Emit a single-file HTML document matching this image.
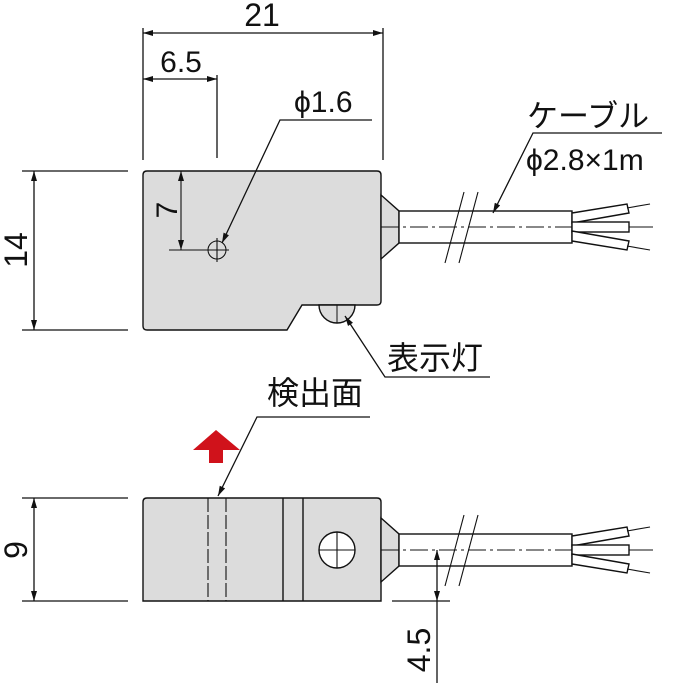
<!DOCTYPE html>
<html><head><meta charset="utf-8"><style>
html,body{margin:0;padding:0;background:#fff;}
svg{display:block;}
text{font-family:"Liberation Sans","Noto Sans CJK JP",sans-serif;fill:#111;}
</style></head><body>
<svg width="678" height="683" viewBox="0 0 678 683" xmlns="http://www.w3.org/2000/svg">
<defs>
<marker id="a" viewBox="0 0 10 6" refX="10" refY="3" markerWidth="12" markerHeight="6" markerUnits="userSpaceOnUse" orient="auto-start-reverse"><path d="M0,0L10,3L0,6z" fill="#111"/></marker>
</defs>

<!-- top body -->
<g stroke="#111" stroke-width="1.4">
<path d="M147,171 H377 Q381,171 381,175 V301 Q381,305 377,305 H302 L287,330 H147 Q143,330 143,326 V175 Q143,171 147,171 Z" fill="#dcdcdc"/>
<path d="M319,305 A18,18 0 0 0 355,305 Z" fill="#dcdcdc"/>
<line x1="337" y1="305" x2="337" y2="323" stroke-width="1"/>
<path d="M381,195 L399,211 V243 L381,259 Z" fill="#dcdcdc"/>
<rect x="399" y="211" width="173" height="32" fill="#fff"/>
<path d="M572,213 L627,204 L629,213 L572,223 Z" fill="#fff"/>
<rect x="572" y="222" width="57" height="10" fill="#fff"/>
<path d="M572,241 L627,250 L629,241 L572,231 Z" fill="#fff"/>
</g>
<g stroke="#111" stroke-width="1.1" fill="none">
<line x1="627" y1="208" x2="650" y2="204"/>
<line x1="629" y1="227" x2="653" y2="227"/>
<line x1="627" y1="246" x2="650" y2="250"/>
<line x1="381" y1="227" x2="572" y2="227" stroke-dasharray="18,4,3,4"/>
<line x1="464" y1="192" x2="445" y2="263"/>
<line x1="478" y1="192" x2="459" y2="263"/>
<circle cx="217" cy="250" r="9"/>
<line x1="217" y1="238" x2="217" y2="262"/>
<line x1="169" y1="250" x2="229" y2="250"/>
<line x1="181" y1="171" x2="181" y2="250" marker-start="url(#a)" marker-end="url(#a)"/>
</g>

<!-- bottom body -->
<g stroke="#111" stroke-width="1.4">
<path d="M147,498 H377 Q381,498 381,502 V601 H143 V502 Q143,498 147,498 Z" fill="#dcdcdc"/>
<path d="M381,518 L399,534 V566 L381,582 Z" fill="#dcdcdc"/>
<rect x="399" y="534" width="173" height="32" fill="#fff"/>
<path d="M572,536 L627,527 L629,536 L572,546 Z" fill="#fff"/>
<rect x="572" y="545" width="57" height="10" fill="#fff"/>
<path d="M572,564 L627,573 L629,564 L572,554 Z" fill="#fff"/>
<circle cx="337" cy="550" r="18" fill="#fff"/>
</g>
<g stroke="#111" stroke-width="1.1" fill="none">
<line x1="319" y1="550" x2="355" y2="550"/>
<line x1="337" y1="532" x2="337" y2="568"/>
<line x1="208" y1="498" x2="208" y2="601" stroke-dasharray="14,3"/>
<line x1="226" y1="498" x2="226" y2="601" stroke-dasharray="14,3"/>
<line x1="283" y1="498" x2="283" y2="601" stroke-width="1.4"/>
<line x1="303" y1="498" x2="303" y2="601" stroke-width="1.4"/>
<line x1="627" y1="531" x2="650" y2="527"/>
<line x1="629" y1="550" x2="653" y2="550"/>
<line x1="627" y1="569" x2="650" y2="573"/>
<line x1="381" y1="550" x2="572" y2="550" stroke-dasharray="18,4,3,4"/>
<line x1="464" y1="515" x2="445" y2="586"/>
<line x1="478" y1="515" x2="459" y2="586"/>
</g>

<g stroke="#111" stroke-width="1.3" fill="none">
<line x1="143" y1="28" x2="143" y2="160"/>
<line x1="383" y1="28" x2="383" y2="160"/>
<line x1="143" y1="33" x2="383" y2="33" marker-start="url(#a)" marker-end="url(#a)"/>
<line x1="217" y1="75" x2="217" y2="158"/>
<line x1="143" y1="79" x2="217" y2="79" marker-start="url(#a)" marker-end="url(#a)"/>
<polyline points="372,120 280,120 222,243" marker-end="url(#a)"/>
<line x1="22" y1="171" x2="128" y2="171"/>
<line x1="22" y1="330" x2="128" y2="330"/>
<line x1="34" y1="171" x2="34" y2="330" marker-start="url(#a)" marker-end="url(#a)"/>
<polyline points="662,133 533,133 493,213" marker-end="url(#a)"/>
<polyline points="490,377 385,377 345,316" marker-end="url(#a)"/>
<polyline points="370,417 257,417 218,496" marker-end="url(#a)"/>
<line x1="22" y1="498" x2="128" y2="498"/>
<line x1="22" y1="601" x2="128" y2="601"/>
<line x1="34" y1="498" x2="34" y2="601" marker-start="url(#a)" marker-end="url(#a)"/>
<line x1="392" y1="601" x2="450" y2="601"/>
<line x1="437" y1="550" x2="437" y2="601" marker-start="url(#a)" marker-end="url(#a)"/>
<line x1="437" y1="601" x2="437" y2="683"/>
</g>

<!-- red arrow -->
<path d="M216,430 L193,450 H209 V463 H223 V450 H240 Z" fill="#d0121b"/>

<!-- texts -->
<text x="262" y="26" font-size="32" text-anchor="middle">21</text>
<text x="181" y="72" font-size="30" text-anchor="middle">6.5</text>
<text x="294" y="112" font-size="30">ϕ1.6</text>
<text x="527" y="127" font-size="31">ケーブル</text>
<text x="526" y="170" font-size="30">ϕ2.8×1m</text>
<text x="387" y="369" font-size="32">表示灯</text>
<text x="267" y="404" font-size="32">検出面</text>
<text transform="translate(177,210) rotate(-90)" font-size="30" text-anchor="middle">7</text>
<text transform="translate(27,250) rotate(-90)" font-size="32" text-anchor="middle">14</text>
<text transform="translate(27,550) rotate(-90)" font-size="32" text-anchor="middle">9</text>
<text transform="translate(430,650) rotate(-90)" font-size="32" text-anchor="middle">4.5</text>
</svg>
</body></html>
